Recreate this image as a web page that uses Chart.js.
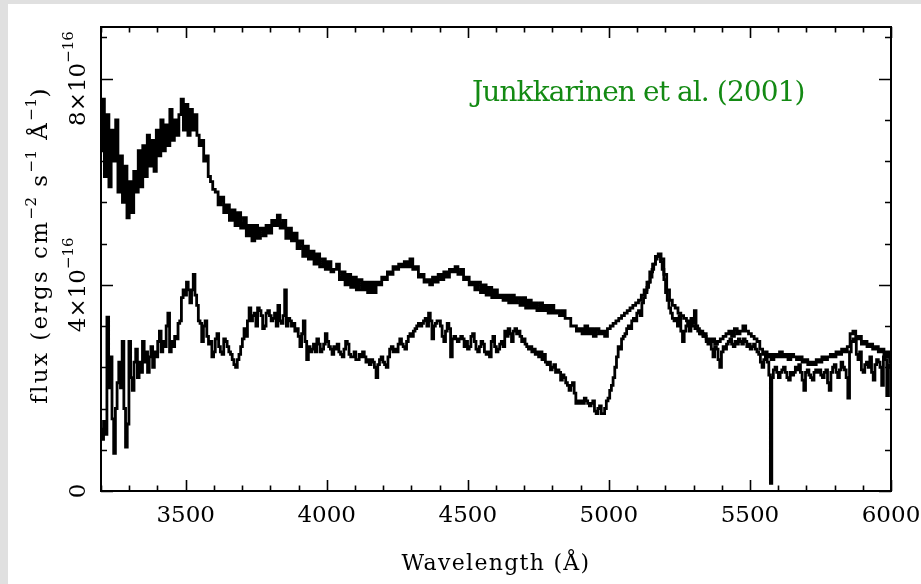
<!DOCTYPE html>
<html>
<head>
<meta charset="utf-8">
<script src="https://cdn.jsdelivr.net/npm/chart.js@4.4.1/dist/chart.umd.min.js"></script>
<style>
  html, body { margin: 0; padding: 0; background: #e0e0e0; width: 921px; height: 584px; overflow: hidden; }
  #wrap { position: absolute; left: 8px; top: 4px; width: 913px; height: 580px; background: #ffffff; }
</style>
</head>
<body>
<div id="wrap"><canvas id="spektrum" width="913" height="580"></canvas></div>
<script>
// flux in units of 1e-16 ergs cm^-2 s^-1 A^-1
const waveA = [
  3200,3208,3216,3224,3232,3240,3248,3256,3264,3272,3280,3288,3296,3304,3312,3320,3328,3336,3344,3352,
  3360,3368,3376,3384,3392,3400,3408,3416,3424,3432,3440,3448,3456,3464,3472,3480,3488,3496,3504,3512,
  3520,3528,3536,3544,3552,3560,3568,3576,3584,3592,3600,
  3610,3620,3630,3640,3650,3660,3670,3680,3690,3700,3710,3720,3730,3740,3750,3760,3770,3780,3790,3800,
  3810,3820,3830,3840,3850,3860,3870,3880,3890,3900,3910,3920,3930,3940,3950,3960,3970,3980,3990,4000,
  4010,4020,4030,4040,4050,4060,4070,4080,4090,4100,4110,4120,4130,4140,4150,4160,4170,4180,4190,4200,
  4210,4220,4230,4240,4250,4260,4270,4280,4290,4300,4310,4320,4330,4340,4350,4360,4370,4380,4390,4400,
  4410,4420,4430,4440,4450,4460,4470,4480,4490,4500,4510,4520,4530,4540,4550,4560,4570,4580,4590,4600,
  4610,4620,4630,4640,4650,4660,4670,4680,4690,4700,4710,4720,4730,4740,4750,4760,4770,4780,4790,4800,
  4810,4820,4830,4840,4850,4860,4870,4880,4890,4900,4910,4920,4930,4940,4950,4960,4970,4980,4990,5000,
  5010,5020,5030,5040,5050,5060,5070,5080,5090,5100,5110,5120,5130,5140,5150,5160,5170,5180,5190,5200,
  5210,5220,5230,5240,5250,5260,5270,5280,5290,5300,5310,5320,5330,5340,5350,5360,5370,5380,5390,5400,
  5410,5420,5430,5440,5450,5460,5470,5480,5490,5500,5510,5520,5530,5540,5550,5560,5570,5580,5590,5600,
  5610,5620,5630,5640,5650,5660,5670,5680,5690,5700,5710,5720,5730,5740,5750,5760,5770,5780,5790,5800,
  5810,5820,5830,5840,5850,5860,5870,5880,5890,5900,5910,5920,5930,5940,5950,5960,5970,5980,5990,6000
];
const fluxA = [
  6.6,7.6,6.1,7.3,5.9,7.0,6.4,7.2,5.8,6.5,5.6,6.3,5.3,6.0,5.4,6.2,5.8,6.6,5.9,6.7,
  6.1,6.9,6.3,6.8,6.2,7.0,6.5,7.2,6.6,7.1,6.7,7.4,6.8,7.2,6.9,7.3,7.6,7.0,7.5,6.9,
  7.4,7.0,7.3,6.9,6.7,6.8,6.4,6.5,6.1,6.0,5.85,
  5.8,5.55,5.7,5.4,5.55,5.25,5.45,5.15,5.4,5.1,5.3,4.95,5.15,4.85,5.15,4.9,5.1,4.95,5.15,5.0,
  5.25,5.15,5.35,5.1,5.25,4.9,5.1,4.85,5.0,4.7,4.85,4.55,4.75,4.5,4.65,4.4,4.6,4.35,4.5,4.3,
  4.45,4.25,4.3,4.4,4.1,4.25,4.0,4.2,3.95,4.15,3.9,4.1,3.9,4.05,3.85,4.05,3.85,4.05,4.0,4.15,
  4.1,4.25,4.2,4.35,4.3,4.4,4.35,4.45,4.35,4.5,4.3,4.35,4.15,4.2,4.05,4.1,4.0,4.15,4.05,4.2,
  4.1,4.25,4.15,4.3,4.25,4.35,4.2,4.3,4.1,4.15,4.0,4.05,3.9,4.05,3.85,4.0,3.8,3.95,3.75,3.9,
  3.75,3.8,3.7,3.8,3.65,3.8,3.65,3.75,3.6,3.75,3.55,3.7,3.55,3.65,3.5,3.65,3.5,3.6,3.45,3.6,
  3.45,3.5,3.4,3.5,3.35,3.35,3.2,3.2,3.1,3.15,3.05,3.2,3.05,3.15,3.0,3.15,3.05,3.1,3.0,3.15,
  3.2,3.25,3.3,3.35,3.4,3.45,3.5,3.55,3.6,3.65,3.7,3.8,3.9,4.05,4.25,4.4,4.55,4.6,4.5,4.2,
  3.9,3.7,3.6,3.55,3.45,3.4,3.35,3.3,3.25,3.2,3.15,3.1,3.05,3.0,2.95,2.9,2.95,2.85,2.9,2.95,
  3.0,3.05,3.1,3.0,3.15,3.05,3.1,3.2,3.1,3.05,3.0,2.95,2.9,2.75,2.65,2.6,2.65,2.55,2.65,2.6,
  2.7,2.6,2.65,2.55,2.65,2.6,2.55,2.6,2.5,2.55,2.45,2.5,2.45,2.55,2.5,2.6,2.55,2.6,2.65,2.6,
  2.7,2.65,2.75,2.7,2.8,3.05,3.1,2.95,3.0,2.85,2.9,2.8,2.85,2.75,2.8,2.7,2.75,2.6,2.7,2.5
];

const waveB = [
  3200,3206,3212,3218,3224,3230,3236,3242,3248,3254,3260,3266,3272,3278,3284,3290,3296,3302,3308,3314,
  3320,3326,3332,3338,3344,3350,3356,3362,3368,3374,3380,3386,3392,3398,3404,3410,3416,3422,3428,3434,
  3440,3446,3452,3458,3464,3470,3476,3482,3488,3494,3500,3506,3512,3518,3524,3530,3536,3542,3548,3554,
  3560,3566,3572,3578,3584,3590,3596,3602,3608,3614,3620,3626,3632,3638,3644,3650,3656,3662,3668,3674,
  3680,3686,3692,3698,3704,3710,3716,3722,3728,3734,3740,3746,3752,3758,3764,3770,3776,3782,3788,3794,
  3800,3806,3812,3818,3824,3830,3836,3842,3848,3854,3860,3866,3872,3878,3884,3890,3896,3902,3908,3914,
  3920,3926,3932,3938,3944,3950,3956,3962,3968,3974,3980,3986,3992,3998,4004,4010,4016,4022,4028,4034,
  4040,4046,4052,4058,4064,4070,4076,4082,4088,4094,4100,4106,4112,4118,4124,4130,4136,4142,4148,4154,
  4160,4166,4172,4178,4184,4190,4196,4202,4208,4214,4220,4226,4232,4238,4244,4250,4256,4262,4268,4274,
  4280,4286,4292,4298,4304,4310,4316,4322,4328,4334,4340,4346,4352,4358,4364,4370,4376,4382,4388,4394,
  4400,4406,4412,4418,4424,4430,4436,4442,4448,4454,4460,4466,4472,4478,4484,4490,4496,4502,4508,4514,
  4520,4526,4532,4538,4544,4550,4556,4562,4568,4574,4580,4586,4592,4598,4604,4610,4616,4622,4628,4634,
  4640,4646,4652,4658,4664,4670,4676,4682,4688,4694,4700,4706,4712,4718,4724,4730,4736,4742,4748,4754,
  4760,4766,4772,4778,4784,4790,4796,4802,4808,4814,4820,4826,4832,4838,4844,4850,4856,4862,4868,4874,
  4880,4886,4892,4898,4904,4910,4916,4922,4928,4934,4940,4946,4952,4958,4964,4970,4976,4982,4988,4994,
  5000,5006,5012,5018,5024,5030,5036,5042,5048,5054,5060,5066,5072,5078,5084,5090,5096,5102,5108,5114,
  5120,5126,5132,5138,5144,5150,5156,5162,5168,5174,5180,5186,5192,5198,5204,5210,5216,5222,5228,5234,
  5240,5246,5252,5258,5264,5270,5276,5282,5288,5294,5300,5306,5312,5318,5324,5330,5336,5342,5348,5354,
  5360,5366,5372,5378,5384,5390,5396,5402,5408,5414,5420,5426,5432,5438,5444,5450,5456,5462,5468,5474,
  5480,5486,5492,5498,5504,5510,5516,5522,5528,5534,5540,5546,5552,5558,5564,5570,5575,5580,5586,5592,
  5598,5604,5610,5616,5622,5628,5634,5640,5646,5652,5658,5664,5670,5676,5682,5688,5694,5700,5706,5712,
  5718,5724,5730,5736,5742,5748,5754,5760,5766,5772,5778,5784,5790,5796,5802,5808,5814,5820,5826,5832,
  5838,5844,5850,5856,5862,5868,5874,5880,5886,5892,5898,5904,5910,5916,5922,5928,5934,5940,5946,5952,
  5958,5964,5970,5976,5982,5988,5994,6000
];
const fluxB = [
  1.2,1.0,1.35,1.1,3.37,2.0,2.6,1.4,0.73,1.6,2.1,2.5,2.0,2.9,1.6,0.85,1.3,2.9,2.2,1.95,
  2.5,2.75,2.2,2.5,2.3,2.9,2.5,2.7,2.3,2.6,2.8,2.4,2.7,2.6,2.9,3.1,2.7,2.9,2.8,3.2,
  3.45,2.7,2.9,2.8,3.0,2.95,3.25,3.3,3.75,3.9,3.8,4.05,3.9,3.65,3.9,4.2,3.8,3.6,3.3,3.25,
  2.9,3.2,3.3,3.0,2.85,2.9,2.6,2.7,2.95,3.05,2.8,2.7,2.65,2.95,2.9,2.8,2.7,2.65,2.55,2.45,
  2.4,2.55,2.65,2.8,2.95,3.15,3.0,3.3,3.55,3.3,3.4,3.45,3.2,3.55,3.5,3.4,3.15,3.2,3.45,3.5,
  3.4,3.3,3.35,3.45,3.2,3.6,3.3,3.25,3.4,3.9,3.2,3.35,3.3,3.2,3.25,3.1,3.15,3.0,2.8,3.05,
  3.3,2.9,2.55,2.8,2.7,2.75,2.85,2.7,2.95,2.85,2.7,2.75,2.85,3.05,2.9,2.8,2.75,2.65,2.8,2.75,
  2.85,2.7,2.65,2.6,2.75,2.9,2.85,2.65,2.6,2.6,2.7,2.55,2.55,2.65,2.6,2.7,2.6,2.5,2.55,2.45,
  2.55,2.5,2.4,2.2,2.45,2.55,2.6,2.5,2.45,2.4,2.6,2.75,2.8,2.7,2.75,2.7,2.85,2.95,2.85,2.8,
  2.75,2.9,3.0,3.05,3.0,3.1,3.15,3.2,3.25,3.2,3.25,3.3,3.35,3.2,3.45,3.3,2.95,3.2,3.25,3.3,
  3.3,3.2,3.0,2.9,3.1,3.25,3.15,2.6,2.95,3.0,2.95,2.9,2.95,3.0,2.95,2.8,2.9,2.75,2.8,3.0,
  3.05,2.9,2.75,2.7,2.8,2.9,2.85,2.7,2.65,2.7,2.6,2.9,3.0,2.8,2.7,2.75,2.85,2.9,2.8,3.1,
  3.0,3.15,3.05,2.9,3.1,3.15,3.05,3.1,3.0,2.9,2.95,2.85,2.8,2.75,2.8,2.7,2.75,2.65,2.7,2.6,
  2.7,2.55,2.65,2.5,2.45,2.5,2.35,2.4,2.45,2.3,2.35,2.3,2.15,2.25,2.2,2.1,2.05,1.95,2.05,2.1,
  1.9,1.7,1.75,1.7,1.75,1.7,1.8,1.75,1.7,1.65,1.7,1.75,1.55,1.5,1.6,1.65,1.5,1.5,1.6,1.75,
  1.8,1.95,2.05,2.2,2.4,2.6,2.8,2.75,2.95,3.0,3.05,3.15,3.2,3.15,3.3,3.35,3.3,3.45,3.5,3.4,
  3.65,3.75,3.85,3.95,4.05,4.15,4.3,4.4,4.5,4.55,4.55,4.45,4.3,4.1,3.85,3.7,3.55,3.45,3.35,3.3,
  3.35,3.2,3.4,3.1,2.9,3.1,3.2,3.25,3.1,3.35,3.25,3.5,3.2,3.15,3.05,3.1,3.0,3.05,2.9,2.85,
  2.9,2.75,2.6,2.8,2.75,2.55,2.4,2.7,2.8,2.75,2.85,2.9,2.95,2.85,2.8,2.9,2.85,2.95,2.9,2.85,
  2.95,2.9,2.8,2.85,2.75,2.8,2.85,2.75,2.7,2.65,2.5,2.4,2.55,2.7,2.5,2.25,0.15,2.2,2.35,2.4,
  2.3,2.2,2.3,2.35,2.4,2.3,2.2,2.15,2.3,2.25,2.3,2.4,2.35,2.45,2.3,2.15,1.95,2.3,2.35,2.25,
  2.2,2.15,2.3,2.35,2.3,2.35,2.25,2.2,2.3,2.35,2.1,1.95,2.3,2.4,2.45,2.3,2.2,2.35,2.5,2.4,
  2.35,2.2,1.8,2.7,2.9,2.95,2.9,2.65,2.55,2.7,2.35,2.3,2.45,2.5,2.4,2.6,2.3,2.15,2.45,2.55,
  2.5,2.4,2.05,2.6,2.55,1.85,2.45,2.4
];

const xMajorTicks = [3500, 4000, 4500, 5000, 5500, 6000];
const xMinorStep = 100;
const yMajorTicks = [0, 4, 8];
const yMinorStep = 0.8;
const yTickLabels = ["0", "4\u00d710", "8\u00d710"];
const yTickExponent = "\u221216";

let chart;

document.addEventListener("DOMContentLoaded", function () {
    const ctx = document.getElementById("spektrum");
    const serif = "'DejaVu Serif', serif";

    function titikData(wave, flux) {
        return wave.map((w, i) => ({ x: w, y: flux[i] }));
    }

    // teks dengan pangkat (superscript), bisa digambar berputar -90 derajat
    function tulisPangkat(c, bagian, cx, cy, rotasi, spasi) {
        c.save();
        c.translate(cx, cy);
        if (rotasi) c.rotate(-Math.PI / 2);
        let total = 0;
        bagian.forEach(b => {
            c.font = b.ukuran + "px " + serif;
            c.letterSpacing = (b.spasi !== undefined ? b.spasi : spasi) + "px";
            b.lebar = c.measureText(b.teks).width;
            total += b.lebar;
        });
        let x = -total / 2;
        c.textBaseline = "alphabetic";
        c.textAlign = "left";
        bagian.forEach(b => {
            c.font = b.ukuran + "px " + serif;
            c.letterSpacing = (b.spasi !== undefined ? b.spasi : spasi) + "px";
            c.fillText(b.teks, x, -(b.naik || 0));
            x += b.lebar;
        });
        c.restore();
    }

    const bingkai = {
        id: "bingkai",
        afterDatasetsDraw(ch) {
            const c = ch.ctx;
            const a = ch.chartArea;
            const sx = ch.scales.x;
            const sy = ch.scales.y;
            c.save();
            c.strokeStyle = "#000";
            c.fillStyle = "#000";

            // ticks ke dalam, di keempat sisi
            c.lineWidth = 1.6;
            c.beginPath();
            for (let v = sx.min; v <= sx.max; v += xMinorStep) {
                const px = Math.round(sx.getPixelForValue(v)) + 0.5;
                const major = xMajorTicks.includes(v);
                const len = major ? 11 : 5.5;
                c.moveTo(px, a.bottom); c.lineTo(px, a.bottom - len);
                c.moveTo(px, a.top); c.lineTo(px, a.top + len);
            }
            for (let k = 0; k * yMinorStep <= sy.max + 1e-9; k++) {
                const v = k * yMinorStep;
                const py = Math.round(sy.getPixelForValue(v)) + 0.5;
                const major = k % 5 === 0;
                const len = major ? 12 : 6;
                c.moveTo(a.left, py); c.lineTo(a.left + len, py);
                c.moveTo(a.right, py); c.lineTo(a.right - len, py);
            }
            c.stroke();

            c.lineWidth = 2;
            c.strokeRect(a.left, a.top, a.right - a.left, a.bottom - a.top);

            // label sumbu x
            c.font = "23px " + serif;
            c.textAlign = "center";
            c.textBaseline = "alphabetic";
            xMajorTicks.forEach(v => {
                c.fillText(String(v), sx.getPixelForValue(v), a.bottom + 31);
            });

            // label sumbu y (berputar)
            yMajorTicks.forEach((v, i) => {
                const py = sy.getPixelForValue(v);
                const bagian = [{ teks: yTickLabels[i], ukuran: 23 }];
                if (v !== 0) bagian.push({ teks: yTickExponent, ukuran: 15, naik: 12 });
                tulisPangkat(c, bagian, a.left - 16, py, true, 0);
            });

            // judul sumbu x
            tulisPangkat(c, [{ teks: "Wavelength (\u00c5)", ukuran: 22 }],
                (a.left + a.right) / 2, a.bottom + 79, false, 1.3);

            // judul sumbu y
            tulisPangkat(c, [
                { teks: "flux (ergs cm", ukuran: 23 },
                { teks: "\u22122", ukuran: 15, naik: 11, spasi: 0.5 },
                { teks: " s", ukuran: 23 },
                { teks: "\u22121", ukuran: 15, naik: 11, spasi: 0.5 },
                { teks: " \u00c5", ukuran: 23 },
                { teks: "\u22121", ukuran: 15, naik: 11, spasi: 0.5 },
                { teks: ")", ukuran: 23 }
            ], a.left - 54, a.top + 218, true, 2.4);

            // keterangan sumber
            c.font = "28px " + serif;
            c.letterSpacing = "-0.9px";
            c.fillStyle = "#138a13";
            c.textAlign = "left";
            c.fillText("Junkkarinen et al. (2001)", 464, 97);
            c.restore();
        }
    };

    chart = new Chart(ctx, {
        type: "line",
        data: {
            datasets: [{
                label: "Spektrum A",
                data: titikData(waveA, fluxA),
                borderColor: "#000000",
                borderWidth: 2.8,
                pointRadius: 0,
                stepped: "middle",
                fill: false
            }, {
                label: "Spektrum B",
                data: titikData(waveB, fluxB),
                borderColor: "#000000",
                borderWidth: 2.8,
                pointRadius: 0,
                stepped: "middle",
                fill: false
            }]
        },
        options: {
            responsive: false,
            animation: false,
            devicePixelRatio: 1,
            layout: { padding: { left: 93, right: 30, top: 23, bottom: 93 } },
            plugins: {
                legend: { display: false },
                tooltip: { enabled: false }
            },
            scales: {
                x: { type: "linear", min: 3200, max: 6000, display: false },
                y: { type: "linear", min: 0, max: 9, display: false }
            }
        },
        plugins: [bingkai]
    });
});
</script>
</body>
</html>
